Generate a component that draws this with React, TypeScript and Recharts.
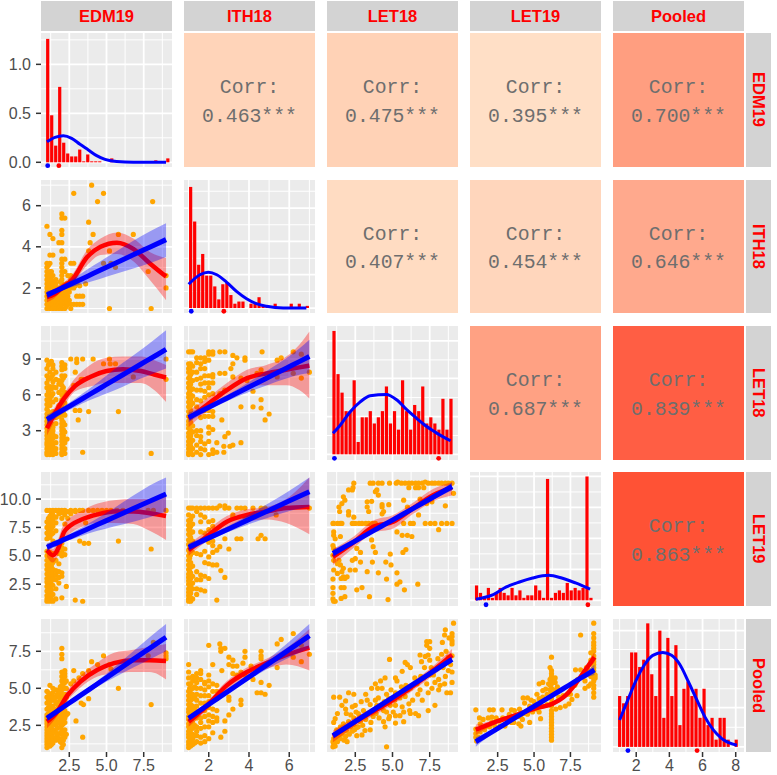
import React from "react";
import { Area, Bar, CartesianGrid, ComposedChart, Line, Scatter, XAxis, YAxis } from "recharts";

const names = ["EDM19", "ITH18", "LET18", "LET19", "Pooled"];

// axis domains
const colDomains = [[0.6, 9.4], [0.77, 7.28], [0.6, 9.4], [0.6, 9.6], [0.6, 8.5]];
const rowDomains = [[-0.048, 1.32], [0.78, 7.25], [0.55, 11.76], [0.58, 12.38], [0.7, 9.68]];
const colTicks = [[2.5, 5, 7.5], [2, 4, 6], [2.5, 5, 7.5], [2.5, 5, 7.5], [2, 4, 6, 8]];
const colMinor = [[1.25, 3.75, 6.25, 8.75], [1, 3, 5, 7], [1.25, 3.75, 6.25, 8.75], [1.25, 3.75, 6.25, 8.75], [1, 3, 5, 7]];
const rowTicks = [[0, 0.5, 1], [2, 4, 6], [3, 6, 9], [2.5, 5, 7.5, 10], [2.5, 5, 7.5]];
const rowMinor = [[0.25, 0.75, 1.25], [1, 3, 5, 7], [1.5, 4.5, 7.5, 10.5], [1.25, 3.75, 6.25, 8.75, 11.25], [1.25, 3.75, 6.25, 8.75]];
const rowTickDigits = [1, 0, 0, 1, 1];

// correlations, upper triangle
const corrValues = [
  ["0.463***", "0.475***", "0.395***", "0.700***"],
  ["0.407***", "0.454***", "0.646***"],
  ["0.687***", "0.839***"],
  ["0.863***"],
];
const corrColors = [
  ["#FFD4B9", "#FFD2B6", "#FFDFC6", "#FF9E80"],
  ["#FFDCC2", "#FFD6BC", "#FFA98D"],
  ["#FFA183", "#FF5E44"],
  ["#FF5235"],
];

// histograms: bar heights, first bin centre, bin step
const edmHist = [1.26, 0.48, 0.17, 0.77, 0.2, 0.09, 0.06, 0.06, 0.13, 0.01, 0.08, 0.01, 0.01, 0.01, 0, 0, 0.04, 0, 0, 0, 0, 0, 0, 0, 0, 0, 0, 0.02, 0, 0, 0.04];
const ithHist = [56, 40, 20, 25, 15, 15, 10, 4, 11, 12, 6, 2, 3, 3, 0, 2, 2, 5, 1, 1, 0, 2, 0, 0, 0, 2, 0, 2, 0, 1];
const let18Hist = [20, 13, 10, 7, 7, 12, 2, 6, 6, 7, 5, 6, 7, 11, 5, 7, 4, 12, 7, 4, 8, 7, 11, 5, 6, 5, 4, 9, 4, 9];
const let19Hist = [6, 3, 1, 5, 1, 3, 5, 3, 2, 5, 2, 4, 1, 2, 2, 6, 4, 1, 49, 1, 3, 4, 3, 7, 4, 5, 4, 5, 50, 1];
const pooledHist = [7, 6, 7, 13, 13, 11, 12, 17, 10, 7, 16, 4, 15, 7, 14, 3, 8, 9, 7, 8, 4, 8, 3, 4, 1, 4, 4, 1, 0, 1];

const edmCurve = [[1, 0.21], [1.54, 0.255], [2.1, 0.272], [2.66, 0.245], [3.22, 0.184], [3.78, 0.126], [4.34, 0.068], [4.9, 0.03], [5.68, 0.007], [6.8, 0], [9, 0]];
const ithCurve = [[1, 11], [1.56, 15.4], [1.98, 16.6], [2.4, 15.4], [2.88, 12], [3.38, 7.7], [3.88, 4.3], [4.37, 2], [4.87, 0.8], [5.7, 0], [6.85, 0]];
const let18Curve = [[1, 3.4], [1.5, 4.76], [2.16, 6.9], [2.83, 8.5], [3.5, 9.5], [4.58, 9.7], [5.3, 8.8], [5.97, 7.2], [6.64, 5.8], [7.3, 4.5], [8, 3.4], [8.9, 2.2]];
const let19Curve = [[1, 0.4], [1.5, 1], [2.2, 2.3], [3.1, 5.4], [4, 7.4], [4.9, 9], [6, 10.1], [6.9, 9], [7.85, 7], [8.85, 4.5]];
const pooledCurve = [[1, 3.7], [1.5, 6.5], [2, 9.2], [2.5, 11.3], [3, 12.6], [3.6, 13], [4.13, 12.6], [4.64, 11.3], [5.14, 9], [5.65, 6.5], [6.15, 4.1], [6.66, 2.3], [7.16, 1.15], [8.07, 0.23]];

// scatter points: [x, y] or [x, [y, y, ...]]
const edmIthPoints = [
  [1, [1, 1.2, 1.4, 1.6, 1.8, 2, 2.2, 2.4, 2.6, 2.8, 3, 3.2, 5]],
  [1.1, [1.1, 1.3, 1.5, 1.7, 1.9, 2.1, 2.3, 2.5, 2.7, 3.1]],
  [1.2, [1, 1.2, 1.4, 1.6, 1.8, 2, 2.2, 2.4, 2.6, 2.8, 3.2, 3.6, 4.6]],
  [1.3, [1.1, 1.3, 1.5, 1.7, 1.9, 2.1, 2.4, 2.8]],
  [1.4, [1, 1.2, 1.4, 1.6, 1.8, 2, 2.2, 2.6, 3.6, 4.4]],
  [1.5, [1.1, 1.3, 1.5, 1.7, 1.9, 2.1, 2.3]],
  [1.6, [1, 1.2, 1.4, 1.6, 1.8, 2, 2.2, 2.4]],
  [1.7, [1.1, 1.3, 1.5, 1.7, 1.9]],
  [1.8, [1, 1.2, 1.4, 1.6, 1.8, 2, 4.2]],
  [1.9, [1.1, 1.3, 1.5, 1.7, 1.9, 2.3]],
  [2, [1, 1.2, 1.4, 1.6, 1.8, 2, 2.2, 2.4, 2.6, 2.8, 3, 3.2, 3.4, 3.8, 4.2, 4.6, 4.8, 5.4, 5.6]],
  [2.2, [1, 1.2, 1.4, 1.6, 1.8, 2, 2.8, 3.4, 5.4]],
  [2.3, [1.1, 1.3, 1.5, 1.8, 2.2]],
  [2.4, [1.2, 1.6, 2, 2.2, 2.6]],
  [2.5, [1.4, 1.8]],
  [2.6, [1, 1.2, 2, 2.2, 2.4, 2.6, 3.2]],
  [2.8, [1.2, 2, 2.4, 3.2, 6.6]],
  [2.9, 2.1],
  [3, [1.2, 1.6, 2.2]], [3.2, [1.2, 1.6, 2.1]], [3.4, [1.2, 1.6]], [3.6, 2.2],
  [4, 7], [4.8, 6.6], [4.4, 6.2], [8.1, 6.2], [3.8, 5.2], [4.1, 4.6], [5.8, 4.6], [6.8, 4.6], [3.9, 4.2], [3.8, 3.8],
  [5.2, 3.8], [4.8, 3.2], [5.3, 3.2], [5.6, 3], [9, 2.6], [7.8, 2.8], [9, 2], [5.2, 1], [8, 1],
];
const edmLet18Points = [
  [1, [1, 1.2, 1.5, 1.8, 2, 2.3, 2.6, 2.9, 3.2, 3.5, 3.8, 4.1, 4.4, 4.8, 5.2, 5.6, 6, 6.6, 7, 7.6, 8.2, 8.9]],
  [1.1, [1.6, 2.1, 2.7, 3.3, 3.9, 4.6, 5.4, 6.3, 7.3, 8.5]],
  [1.2, [1, 1.3, 1.6, 1.9, 2.2, 2.5, 2.8, 3.1, 3.4, 3.8, 4.3, 5.1, 5.7, 6.1, 6.7, 7.4, 7.9, 8.7]],
  [1.3, [1.2, 1.8, 2.3, 2.9, 3.6, 4.4, 5.9, 6.5, 7.5, 8.8]],
  [1.4, [1, 1.4, 1.7, 2, 2.4, 2.7, 3, 3.3, 4.6, 5.4, 6.1, 6.7, 7.1, 7.7, 8.2, 8.5]],
  [1.6, [1.1, 1.5, 2, 2.5, 3.6, 4.1, 5.6, 6.6, 7.3, 7.9]],
  [1.8, [4.2, 5.1, 6.2, 6.9, 7.2]],
  [2, [1, 1.2, 1.5, 1.8, 2.1, 2.4, 2.7, 3, 3.3, 3.6, 3.9, 4.3, 4.7, 5.1, 5.6, 6, 6.4, 6.8, 7.2, 7.6, 8.1, 8.4, 8.7]],
  [2.1, [1.3, 1.9, 2.6, 3.1, 3.7, 4.5, 5.4, 6.6, 7.4, 8.3]],
  [2.2, [1.1, 1.5, 2, 2.3, 2.9, 3.5, 4.3, 5.3, 6.2, 7.6, 8.2, 8.5]],
  [2.35, 2.3], [2.6, 9], [3, [9, 8.7]], [3.4, [9, 7.3, 1.2]], [4.1, 9], [5.2, 9], [4.8, 8.6], [5.25, 8.6], [5.6, 8.6],
  [9, [9, 7.3]], [6.8, 7.5], [2.9, [7.9, 4.7]], [3.3, 7.3], [2.8, 6.8], [8, 1.1], [5.8, 4.6], [3.8, 4.6], [3.1, 3.9], [3.2, 4.7],
];
const ithLet18Points = [
  [1, [1, 1.2, 1.5, 1.8, 2.1, 2.5, 2.8, 3.2, 3.5, 3.8, 4.2, 4.6, 5, 5.4, 5.8, 6.1, 6.6, 7, 7.4, 7.9, 8.2, 8.6, 9.6]],
  [1.05, [1.1, 1.6, 2.2, 2.7, 3.3, 3.9, 4.4, 5.2, 5.7, 6.3, 6.8, 7.5, 8.1, 8.4]],
  [1.1, [1.3, 1.7, 2, 2.3, 2.6, 3, 3.4, 3.7, 4.1, 4.7, 5.1, 5.6, 6, 6.4, 6.9, 7.2, 7.7, 8.6, 9.6]],
  [1.2, [1, 1.5, 2.2, 2.9, 3.4, 5.3, 5.9, 6.5, 7.2, 7.9, 8.4, 9.6]],
  [1.4, [1.2, 1.8, 2.6, 3, 5, 5.6, 6.4, 7.3, 7.9, 8.7, 9.1]],
  [1.6, [1, 1.5, 2.1, 2.5, 3, 4.1, 5.5, 6.4, 6.9, 7.4, 8.2, 8.6, 9.1]],
  [1.8, [1.4, 1.9, 4.2, 4.7, 5.8, 6.3, 7, 7.6, 8.2, 8.8, 9.1]],
  [2, [1, 2.1, 2.8, 3.3, 4.2, 4.7, 6, 6.6, 7, 7.6, 8.9, 9.4, 9.6]],
  [2.2, [1.1, 1.4, 3.1, 4.2, 4.6, 6.1, 7, 7.5, 7.7, 9.4, 9.6]],
  [2.4, [1.2, 2]], [2.55, [6.1, 7.8, 9.6]], [2.65, 3.9], [2.75, [1.7, 1.2]], [2.8, [2.5, 6.4, 7.8, 9.6]], [2.97, 2.8], [3.05, 1.7], [3.2, [1.8, 7.5, 8.6, 9.3]], [3.1, 8.2],
  [3.4, 9.1], [3.6, [2, 5, 7.4]], [3.8, [9.1, 8.9]], [3.9, 7.2], [4.2, [5, 6.3]], [4.4, 7.8], [4.6, [5.6, 4.9, 8.1]], [4.65, 9.6], [4.8, 3.9], [5, 4.4],
  [5.4, [8.9, 7.5]], [5.6, 9.1], [6.2, [9.6, 7.8]], [6.6, [9.4, 7.4]], [7, 7.9],
];
const edmLet19Points = [
  [1, [1, 1.2, 1.5, 1.9, 2.3, 2.7, 3, 3.4, 3.8, 4.2, 4.6, 5, 5.4, 6.5, 7, 7.5, 8, 9]],
  [1.1, [1.2, 1.7, 2.1, 2.5, 2.9, 3.3, 3.7, 4.1, 4.5, 5.1, 6.8, 7.3, 7.8, 8.3]],
  [1.2, [1, 1.4, 1.8, 2.2, 2.6, 3.1, 3.5, 3.9, 4.4, 4.8, 5.3, 5.9, 6.6, 7.1, 7.6, 8.1, 8.5, 9]],
  [1.3, [1.2, 2, 2.8, 3.2, 3.6, 4.1, 4.7, 6.9, 7.4, 7.9, 8.8]],
  [1.4, [1, 1.6, 2.4, 3, 3.4, 3.8, 4.4, 5.2, 6.3, 7, 7.6, 8.2, 8.6, 9]],
  [1.6, [1.2, 2.1, 2.9, 3.3, 3.7, 4.6, 6.1, 7.2, 7.9, 8.4, 9]],
  [1.8, [2.6, 3.1, 3.6, 4.3, 5.2, 8.7, 9]],
  [2, [1.3, 3.2, 3.5, 5, 5.3, 5.7, 6.1, 8.3, 8.8, 9]],
  [2.2, [5.1, 5.6, 7.8, 8.6, 9]],
  [2.3, 2.3], [2.4, [8.3, 8.9]], [2.6, [8.7, 9]], [2.9, [1.1, 8.9, 9]], [3.2, [9, 6.3]], [3.4, [1, 9]], [3.5, 6.1], [3.6, 7.9], [3.8, [9, 6.1]],
  [4.1, 9], [4.4, 9], [4.7, 9], [5, 9], [5.3, 9], [5.7, 9], [6.1, 9], [5.8, 6.3], [8, 5.6], [7.8, 9], [8.15, 9], [9, 9],
];
const ithLet19Points = [
  [1, [1, 1.2, 1.5, 1.8, 2.1, 2.5, 2.8, 3.1, 3.4, 3.8, 4.2, 4.6, 5, 5.5, 6, 6.4, 6.9, 7.3, 7.7, 8.1, 8.6, 9.2]],
  [1.05, [1.1, 1.6, 2.2, 2.7, 3.2, 3.6, 4.1, 4.8, 5.3, 5.8, 6.2, 6.8, 7.4, 8]],
  [1.1, [1, 1.3, 1.7, 2, 2.4, 3, 3.5, 4, 4.4, 5.1, 5.6, 6.1, 6.6, 7, 7.6, 8.2, 9.2]],
  [1.2, [1.2, 2.1, 2.6, 3.2, 4.1, 5.3, 6.3, 7.1, 7.8, 8.5, 9.2]],
  [1.4, [1.6, 2.1, 2.9, 3.6, 5.2, 8.9, 9.2]],
  [1.6, [2, 2.9, 3.3, 5.1, 7.1, 8, 8.6, 9.2]],
  [1.8, [1.9, 3.2, 4.4, 5.4, 7, 8.4, 9.2]],
  [2, [3, 4.3, 4.9, 6.2, 7.3, 8, 9.2]],
  [2.2, [4.2, 5.3, 5.9, 6.3, 7.6, 8.1, 9.2]],
  [2.4, [1.1, 4.2, 5.5, 9.2]], [2.55, [5.8, 9.4]], [2.6, 3.7], [2.8, [3.1, 6.5, 9.4, 9.2]], [3, [5.6, 9.2]], [3.2, [8.6, 8.4]], [3.4, [6.5, 9.2]], [3.6, [6.5, 9.2]],
  [3.8, [8.4, 9.2]], [4.2, 9.2], [4.45, 6.5], [4.6, [6.8, 9.2]], [4.8, [6.5, 9.2]], [5.35, 8.6], [7, 9.2],
];
const let18Let19Points = [
  [3.5, 11.4], [3.7, 11.4], [4.05, 11.4], [4.3, 11.4], [4.8, 11.4], [5.25, 11.4], [5.35, 11.5], [5.6, 11.4], [5.85, 11.4], [6.1, 11.4], [6.3, 11.4], [6.55, 11.4], [6.75, 11.4], [7, 11.4], [7.2, 11.5], [7.4, 11.4], [7.65, 11.4], [7.85, 11.4], [8.1, 11.4], [8.3, 11.4], [8.55, 11.4], [8.75, 11.4], [9, 11.4],
  [6.1, 11], [6.55, 11], [6.75, 11], [7.1, 11], [3.85, 10.65], [3.95, 10.8], [4.05, 10.35], [2.4, 11.4], [2.35, 11], [2.05, 10.8], [2.3, 10.8], [3.6, 9.8], [3.3, 9.75], [4.3, 9.3], [1.7, 10.2], [1.8, 9.9], [1.6, 9.6], [1.4, 9.3], [2.05, 8.9], [1.45, 8.9], [2.05, 8.6], [2.4, 8.4],
  [3.3, 9.3], [3.4, 8.9], [4.4, 8.9], [4.3, 8.7], [4.3, 9.5], [4.75, 9.5], [5.75, 9.9], [6, 9.3], [6.75, 8.6], [6.85, 10], [7.3, 9.6], [7.65, 9.75], [8.55, 9.4], [9.1, 10.5],
  [1, 7.85], [1.05, 7.85], [1.3, 7.85], [1.5, 7.85], [1.6, 7.85], [2.3, 7.85], [2.4, 7.85], [2.5, 7.85], [2.75, 7.85], [2.95, 7.85], [3.2, 7.85], [3.4, 7.85], [3.65, 7.85], [3.85, 7.85], [5.75, 7.85], [6.2, 7.85], [6.4, 7.85], [7.2, 7.85], [7.55, 7.85], [7.85, 7.85], [8.3, 7.85], [8.65, 7.85], [9, 7.85],
  [3.6, 7.4], [5.3, 7.1], [5.65, 6.8], [6, 6.8], [6.3, 6.7], [8.1, 7.3], [1.05, 7.1], [1.05, 6.8], [1.5, 6.7], [1.15, 6.5], [1, 5.9], [1.05, 5.65], [3.6, 6.4], [3.7, 5.8], [2.6, 5.65], [2.85, 5.3], [3.85, 5.3], [4.85, 5.15], [5.9, 5.55], [5.7, 5.3],
  [1, 5.05], [1.05, 4.6], [1.4, 4.6], [1.5, 4.2], [1.3, 4.3], [2.3, 4.6], [2.5, 4.75], [2.85, 4.45], [3.65, 4.45], [4.55, 4.45], [4.9, 4.2], [1.05, 3.75], [1.3, 3.45], [1.7, 3.9], [1.6, 3.6], [1.7, 3.15], [2.15, 3.75], [2.5, 3.75], [3.3, 3.6], [4.05, 3.5], [5.3, 3.5], [4.6, 2.95],
  [1.55, 3], [1.95, 3.15], [1.8, 3], [1, 2.95], [5.5, 2.7], [5.3, 2.5], [6.7, 2.5], [1.55, 2.2], [1.75, 2.2], [2.95, 2.2], [2.6, 2], [5.8, 2], [1, 2.2], [1, 1.7], [1.55, 1.25], [1.8, 1.4], [3.45, 1.4], [1, 1.2], [1.05, 1], [1.15, 1], [4.7, 1.15],
];
const edmPooledPoints = [
  [1, [1, 1.2, 1.4, 1.6, 1.8, 2, 2.2, 2.4, 2.6, 2.8, 3, 3.2, 3.6, 4, 4.4, 4.8]],
  [1.1, [1.2, 1.5, 1.8, 2.1, 2.4, 2.7, 3, 3.3, 3.7, 4.2, 4.7]],
  [1.2, [1.1, 1.4, 1.7, 2, 2.3, 2.6, 2.9, 3.2, 3.5, 3.8, 4.1, 4.5, 5.2]],
  [1.3, [1.2, 1.6, 1.9, 2.4, 2.8, 3.1, 3.6, 4.2, 4.6]],
  [1.4, [1.3, 1.7, 2.2, 2.6, 3, 3.4, 3.8, 4.4, 4.7, 5]],
  [1.5, [1.6, 2.1, 2.7, 3.2, 3.6, 4.2]],
  [1.6, [1.5, 2, 2.5, 2.9, 3.5, 4, 4.4, 4.9]],
  [1.7, [1.8, 2.3, 3.1, 3.9, 4.6]],
  [1.8, [1.6, 2.7, 3.3, 3.7, 4.1, 4.5, 4.9]],
  [1.9, [1.4, 2, 2.4, 3, 3.5, 4.3, 4.7, 5.1]],
  [2, [1, 1.3, 1.6, 1.9, 2.2, 2.5, 2.8, 3.1, 3.4, 3.7, 4, 4.3, 4.6, 4.9, 5.2, 5.5, 5.8, 6.1, 7, 7.3, 7.7]],
  [2.1, [1.2, 1.5, 2, 2.6, 3.3, 3.9, 4.4, 5.1, 5.6, 6]],
  [2.2, [1.7, 2.2, 2.7, 3, 3.5, 4.2, 4.6, 5, 5.4, 5.8, 6, 6.2]],
  [2.3, [1.9, 3.2, 4.4, 5, 5.5]],
  [3.4, 1.7], [2.95, 2.8], [2.4, 3.3], [3.3, 4], [3.45, 3.9], [3.8, 4.3], [2.6, 5.3], [2.8, 5.5], [3.15, 5.7], [3.4, 6], [2.8, 6.2], [3.8, 6.2], [4, 6.8], [4.4, 6.6], [4.8, 7.2], [3.9, 6],
  [5.8, 5], [8, 3.9], [7.8, 7.2], [8.15, 8.1], [9, 7.4], [9, 7.2], [9, 7], [5.2, 6.6], [5.3, 6.3],
];
const ithPooledPoints = [
  [1, [1, 1.2, 1.4, 1.7, 1.9, 2.1, 2.4, 2.6, 2.9, 3.1, 3.4, 3.6, 3.9, 4.2, 4.5, 4.8, 5.3, 5.7, 6.1, 6.6]],
  [1.05, [1.3, 1.8, 2.2, 2.7, 3.2, 3.7, 4.3, 5]],
  [1.1, [1.1, 1.4, 1.7, 2, 2.3, 2.5, 2.8, 3, 3.3, 3.6, 3.9, 4.2, 4.6, 4.9, 5.3]],
  [1.2, [1.2, 1.6, 1.9, 2.3, 2.7, 3.2, 3.5, 3.8, 4.3, 4.6, 5, 5.5, 5.8]],
  [1.3, [1.3, 1.8, 2.5, 3, 3.6, 4.4, 5.1, 5.7]],
  [1.4, [1.4, 1.8, 2.1, 2.4, 3, 3.4, 3.8, 4.2, 4.6, 5, 5.4, 5.7, 6]],
  [1.6, [1.3, 1.7, 2.3, 2.7, 3, 3.5, 4, 4.5, 5, 5.6, 6, 6.2]],
  [1.8, [1.4, 1.8, 2.4, 3.1, 3.5, 4, 4.5, 4.9, 5.3, 5.4]],
  [2, [1.6, 2.4, 2.8, 3.2, 3.7, 4.1, 4.5, 5.1, 5.5, 5.9, 7.9]],
  [2.2, [2, 2.7, 3.1, 3.6, 4.2, 4.8, 5.3, 6.6]],
  [2.4, [2.8, 3, 3.5, 4.3, 4.8, 5.2]],
  [2.6, [1.7, 7.7, 7.5]], [2.55, 8], [2.8, [2.1, 7.7, 2.8]], [3, [7.1, 6.6, 3.2, 4.4, 4.2]], [3.2, [6.9, 6.5, 6, 3.6]], [3.4, [6.5, 5.9]], [3.8, [7.5, 7.1, 5.9]], [4.6, [7.5, 7.2, 7, 4.7, 5.4]],
  [3.7, 6.7], [4.1, 6.5], [2.65, 6.2], [3.6, [4.2, 3.9, 6.1]], [4.4, 4.7], [4.8, 4.6], [5, 5.2], [5.4, [8, 6.4]], [5.6, 8.3], [6.2, [8.7, 7.1]], [6.6, [7.9, 6.8]], [7, 7.3], [4.2, 5.6],
];
const let18PooledPoints = [
  [9.1, 9.4], [8.55, 8.95], [9, 8.7], [9, 8.5], [9, 8.2], [8.5, 8.6], [8.35, 8.1], [8.8, 8.4], [7.3, 8.15], [7.5, 8.15], [7.3, 7.9], [7.5, 7.7], [6.85, 7.25], [7.2, 7.15], [7.4, 7.25], [7.5, 6.9], [6.95, 6.8],
  [4.8, 6.95], [5.85, 6.75], [6, 6.6], [6.2, 6.4], [5.65, 6.15], [5.2, 5.7], [5.3, 5.5], [4.5, 5.7], [4.2, 5.5], [3.85, 5.3], [3.6, 5], [3.3, 4.2], [1.05, 4.4], [1.45, 4.4], [2.05, 4.7], [2.4, 4.6], [1.85, 4.15], [2.5, 3.85], [1.6, 3.85], [1.85, 3.6], [2.3, 3.75], [1.15, 2.95], [1.05, 2.7],
  [7.85, 3.85], [7.4, 3.5], [8.9, 4.7], [8.65, 4.7], [8.1, 4.9], [7.65, 5], [6.55, 3.3], [6.75, 3.15], [6.2, 3.3], [4.6, 1.05], [5.75, 2.75], [5.2, 2.65], [4.75, 2.95], [4.4, 2.75], [4.5, 2.4], [5.5, 3.15], [5.2, 3.15], [4.8, 3.1],
  [3.5, 2.2], [3.15, 2.15], [2.95, 1.85], [2.6, 1.8], [2.4, 2.55], [2.7, 2.4], [1, 1.05], [1.05, 1.25], [1.3, 1.4], [1.5, 1.6], [1.05, 1.6], [1, 1.4], [1.15, 1.1], [1.85, 1.75], [1.95, 2.1], [1.4, 1.85],
  [3.5, 3.9], [3.85, 4.2], [4.05, 4.35], [4.6, 4.6], [5.2, 4.7], [5.5, 4.35], [5.85, 4.45], [6.2, 5], [6.65, 5.3], [7.1, 5.7], [7.5, 5.9], [8.1, 5.6], [8.55, 5.8], [3.05, 3.5], [2.7, 3.3], [2.4, 3], [2.05, 2.75], [1.7, 2.6], [2.85, 2.75],
  [3.95, 3.85], [4.4, 3.5], [4.85, 3.85], [5.2, 3.85], [5.65, 3.75], [6.1, 3.95], [6.85, 4.9], [7.3, 5.3], [7.85, 5.4], [8.4, 6.4], [8.75, 7.1], [9, 7.2], [2.3, 2.1], [2.6, 2.35], [1.7, 2.1], [1.5, 2.4], [1.95, 1.4],
  [1.2, 1.6], [1.25, 2.2], [1.6, 1.9], [1.75, 1.5], [2.1, 1.9], [2.2, 2.4], [2.45, 2.2], [2.55, 3.4], [2.8, 3.1], [3, 2.5], [3.2, 2.9], [3.35, 3.3], [3.55, 2.7], [3.7, 3.1], [3.9, 3.3], [4.1, 3], [4.2, 3.7], [4.45, 4.1], [4.6, 3.4], [4.75, 4.3], [4.9, 4.9], [5.05, 3.4], [5.15, 4.2], [5.35, 4.5], [5.6, 5.1], [5.75, 3.4], [5.9, 5.2], [6.05, 4.9],
  [6.15, 3.5], [6.35, 4.2], [6.5, 5.7], [6.7, 4.6], [6.9, 5.8], [7, 4.2], [7.15, 6.4], [7.4, 4.7], [7.6, 6.4], [7.75, 5.9], [7.95, 6.3], [8.05, 7], [8.2, 5.2], [8.3, 7.3], [8.5, 5.3], [8.6, 7.5], [8.75, 6.2], [8.9, 6.6], [9, 6.1], [9, 5.4], [9, 8], [1.9, 3.3], [2.2, 3.2], [1.3, 3.3], [2.9, 4.1], [3.2, 4.6], [4, 5], [4.3, 5],
];
const let19PooledPoints = [
  [9.1, [9.4, 8.7, 8.4, 8.1, 7.9, 7.7, 7.5, 7.2, 7, 6.8, 6.6, 6.4, 6.2, 6, 5.7, 5.5, 5.2, 5, 4.7, 4.4]],
  [6.2, [7.1, 6.2, 6, 5.8, 5.5, 5.3, 5, 4.7, 4.5, 4.3, 4, 3.8, 3.5, 3.3, 3.1, 2.9, 2.7, 2.5, 2.3, 2.1, 1.9, 1.7, 1.5]],
  [8.2, 8.6], [7.85, 6.25], [8.2, 6.25], [8.5, 5.5], [8.75, 5.15], [8.5, 5], [9.2, 5.7], [9.2, 5.9], [7.95, 4.5], [7.5, 4.6], [7.15, 3.8], [6.8, 3.7], [7.6, 4.25], [7.4, 3.95],
  [5.35, 5.3], [6, 5.3], [5.8, 4.95], [5.6, 4.85], [5.9, 4.6], [6.6, 5.1], [6.7, 4.4], [5.2, 4.6], [5.35, 4.3], [4.55, 4.35], [4.25, 4.35], [4.35, 4], [4.7, 3.8], [5.15, 3.6], [4.9, 3.4], [4.55, 3.25], [4, 3.6], [5.35, 3.4], [5.45, 2.95],
  [1, 3.55], [1.95, 3.55], [2.2, 3.55], [2.8, 3.55], [3.45, 3.55], [3.65, 3.5], [3.95, 3.1], [4.2, 2.9], [1.25, 3], [1.5, 2.9], [1.85, 3], [2.1, 3.05], [2.4, 3], [2.85, 3], [3.3, 3.25], [3.6, 3.05],
  [1, 2.25], [1.3, 2.6], [1.75, 2.45], [2.3, 2.45], [2.65, 2.45], [3, 2.45], [3.45, 2.7], [3.95, 2.6], [4.1, 2.45], [4.7, 2.7], [1, 1.7], [1, 1.95], [1.3, 2.05], [1.6, 2.2], [1.95, 2.4],
  [6.1, [6.4, 5.6, 5.2, 4.9, 4.4]], [5.6, [5.4, 4.4]], [6.45, [5.7, 5.4, 4.9]], [8.9, [6.9, 7.4, 5.8, 5.3]], [5, 4.1], [5.4, 4], [4.8, 4.2], [3.2, 2.9], [3.6, 2.7], [2.6, 2.8], [2.1, 2.7], [4.3, 3.3], [4.1, 3.2], [5.9, 3.9], [6.5, 3.6], [7, 4.5], [7.3, 4.6], [7.8, 5.2], [8, 5.6], [8.3, 5.8], [8.6, 6.4], [8.8, 6.2], [1.05, 1.45], [1.15, 1.7],
];

// fitted curves: [x, loess low, loess, loess high, lm low, lm, lm high]
const edmIthFit = [
  [1, 1.3, 1.55, 1.8, 1.45, 1.65, 1.85], [1.5, 1.5, 1.7, 1.95, 1.7, 1.82, 1.95], [2, 1.85, 2, 2.2, 1.88, 1.99, 2.1], [2.7, 2.2, 2.4, 2.65, 2.05, 2.22, 2.42], [3.7, 3.1, 3.5, 3.85, 2.25, 2.56, 2.9],
  [4.6, 3.6, 4, 4.4, 2.45, 2.87, 3.3], [5.7, 3.65, 4.2, 4.7, 2.7, 3.24, 3.8], [6.8, 3.3, 3.9, 4.4, 2.95, 3.61, 4.3], [7.9, 2.4, 3.2, 3.75, 3.2, 3.98, 4.75], [9, 1.4, 2.55, 3.45, 3.5, 4.35, 5.15],
];
const edmLet18Fit = [
  [1, 2.6, 3.2, 3.9, 3.54, 3.94, 4.34], [1.6, 4, 4.6, 5.1, 4.08, 4.38, 4.68], [2.15, 5.1, 5.7, 6.1, 4.5, 4.78, 5.06], [2.9, 6.3, 6.75, 7.4, 4.98, 5.33, 5.68], [3.9, 6.7, 7.5, 8.5, 5.56, 6.06, 6.56],
  [5, 7, 8, 9.1, 6.12, 6.87, 7.62], [6.1, 7, 8.15, 9.2, 6.68, 7.68, 8.68], [7.3, 7, 8, 9.2, 7.36, 8.56, 9.76], [8.2, 6.4, 7.7, 8.9, 7.81, 9.21, 10.61], [9, 5.4, 7.45, 8.5, 8.2, 9.8, 11.4],
];
const ithLet18Fit = [
  [1, 3.3, 4, 4.7, 3.7, 4.1, 4.5], [1.9, 4.6, 5.15, 5.7, 4.62, 4.87, 5.12], [2.9, 5.85, 6.4, 7, 5.47, 5.72, 5.97], [3.9, 6.7, 7.4, 8.1, 6.17, 6.57, 6.97],
  [4.87, 6.8, 7.8, 8.5, 6.79, 7.39, 7.99], [5.85, 6.8, 8.1, 9.2, 7.37, 8.22, 9.07], [6.5, 6.4, 8.3, 10.2, 7.68, 8.78, 9.88], [7, 5.7, 8.45, 11.3, 7.8, 9.2, 10.6],
];
const edmLet19Fit = [
  [1, 4.9, 5.5, 6.1, 5.4, 5.75, 6.1], [1.4, 4.4, 5.05, 5.6, 5.69, 5.99, 6.29], [1.7, 4.9, 5.5, 6.3, 5.88, 6.16, 6.44], [2.15, 6.3, 7.1, 7.9, 6.18, 6.43, 6.68], [2.6, 7, 7.7, 8.4, 6.41, 6.69, 6.97],
  [3.25, 7.5, 8.15, 8.9, 6.72, 7.07, 7.42], [4.4, 7.9, 8.65, 9.6, 7.2, 7.75, 8.3], [5.5, 7.9, 8.9, 9.9, 7.59, 8.39, 9.19], [6.8, 7.8, 8.9, 10, 8.01, 9.16, 10.31], [7.9, 7.2, 8.75, 10, 8.4, 9.8, 11.2], [9, 6.4, 8.5, 10.4, 8.9, 10.45, 11.9],
];
const ithLet19Fit = [
  [1, 5, 5.5, 6, 5.4, 5.75, 6.1], [1.9, 6.3, 6.7, 7.2, 6.24, 6.49, 6.74], [2.9, 7.5, 8, 8.5, 7.05, 7.3, 7.55], [3.9, 8, 8.6, 9.1, 7.72, 8.12, 8.52],
  [4.87, 8.2, 8.9, 9.3, 8.31, 8.91, 9.51], [5.85, 7.9, 9.2, 10, 8.86, 9.71, 10.56], [7, 6.9, 9.3, 11.9, 9.35, 10.65, 11.9],
];
const let18Let19Fit = [
  [1, 4.2, 4.9, 5.6, 4.85, 5.2, 5.55], [2.4, 5.7, 6.2, 6.7, 6.03, 6.23, 6.43], [3.7, 7, 7.55, 8.1, 7.04, 7.19, 7.34], [5.05, 7.4, 8, 8.6, 8.04, 8.19, 8.34],
  [6.4, 8.7, 9.2, 9.7, 9.03, 9.18, 9.33], [7.75, 9.8, 10.35, 10.9, 9.98, 10.18, 10.38], [9, 10.3, 11, 11.5, 10.75, 11.1, 11.45],
];
const edmPooledFit = [
  [1, 2.3, 2.75, 3.2, 2.76, 2.98, 3.2], [1.6, 3, 3.3, 3.6, 3.22, 3.39, 3.56], [2.4, 4.2, 4.55, 4.9, 3.81, 3.94, 4.07], [3.25, 5.05, 5.45, 5.85, 4.39, 4.52, 4.65], [4.4, 5.8, 6.25, 6.75, 5.11, 5.31, 5.51],
  [5.5, 6, 6.7, 7.4, 5.71, 6.06, 6.41], [6.8, 6.1, 6.9, 7.6, 6.4, 6.95, 7.5], [7.9, 6.1, 6.9, 7.8, 6.95, 7.7, 8.45], [9, 5.6, 6.85, 8, 7.5, 8.45, 9.35],
];
const ithPooledFit = [
  [1, 2.4, 2.75, 3.1, 2.78, 2.98, 3.18], [1.9, 3.5, 3.8, 4.1, 3.69, 3.82, 3.95], [2.9, 4.9, 5.2, 5.5, 4.61, 4.74, 4.87], [3.9, 5.75, 6.1, 6.4, 5.5, 5.67, 5.84],
  [4.87, 6.3, 6.7, 7, 6.27, 6.57, 6.87], [5.85, 6.6, 7.25, 7.7, 6.98, 7.48, 7.98], [7, 6.2, 7.75, 9, 7.7, 8.55, 9.35],
];
const let18PooledFit = [
  [1, 1.35, 1.75, 2.15, 1.58, 1.8, 2.02], [2.85, 2.65, 2.95, 3.25, 2.89, 2.99, 3.09], [4.6, 3.65, 3.95, 4.25, 4.04, 4.12, 4.2], [5.95, 4.55, 4.85, 5.15, 4.91, 4.99, 5.07],
  [7.3, 5.55, 5.85, 6.15, 5.74, 5.86, 5.98], [9, 6.85, 7.25, 7.65, 6.73, 6.95, 7.17],
];
const let19PooledFit = [
  [1, 1.85, 2.2, 2.55, 1.05, 1.4, 1.7], [2.4, 2.6, 2.75, 2.9, 2.13, 2.23, 2.33], [3.8, 3.05, 3.2, 3.35, 3, 3.07, 3.14], [5.1, 3.5, 3.65, 3.8, 3.76, 3.84, 3.92], [6.25, 3.8, 3.95, 4.1, 4.44, 4.52, 4.6],
  [7.15, 4.35, 4.5, 4.65, 4.96, 5.06, 5.16], [7.85, 5.1, 5.3, 5.5, 5.36, 5.48, 5.6], [8.5, 5.95, 6.2, 6.45, 5.7, 5.86, 6.02], [9.15, 6.75, 7.1, 7.45, 5.9, 6.25, 6.6],
];

const panelX = [41, 184, 327, 470, 613];
const panelY = [33, 180, 326, 472, 619];
const panelH = [134, 133, 134, 134, 133];
const panelW = 131;

const toPoints = (list: any[]) =>
  list.flatMap(([x, y]) => (Array.isArray(y) ? y.map((v: number) => ({ x, y: v })) : [{ x, y }]));

const toRows = (fit: number[][]) =>
  fit.map(([x, rl, r, rh, bl, b, bh]) => ({ x, red: r, redBand: [rl, rh], blue: b, blueBand: [bl, bh] }));

const dotShape = (color: string, r: number) => (p: any) => <circle cx={p.cx} cy={p.cy} r={r} fill={color} />;

// the curve's x values shrink the band Recharts gives a bar, so the width is set here
const barShape = (p: any) => <rect x={p.x + p.width / 2 - 1.6} y={p.y} width={3.2} height={p.height} fill="#FF0000" />;

const Frame = ({ col, row, data, yDomain, yMajor, yMinor, children }: any) => {
  const left = col === 0;
  const bottom = row === 4;
  const spare = bottom ? 0 : 6; // room under the plot so the lowest y label is not cut
  const axisStyle = { fontSize: 16, fontFamily: "Liberation Sans", fill: "#4d4d4d" };
  return (
    <div style={{ position: "absolute", left: panelX[col] - (left ? 41 : 0), top: panelY[row] }}>
      <ComposedChart
        width={panelW + (left ? 41 : 0)}
        height={panelH[row] + (bottom ? 23 : spare)}
        data={data}
        margin={{ top: 0, right: 0, bottom: spare, left: 0 }}
      >
        <CartesianGrid fill="#EBEBEB" stroke="#fff" strokeWidth={1} horizontalValues={yMinor} verticalValues={colMinor[col]} />
        <CartesianGrid stroke="#fff" strokeWidth={1.8} horizontalValues={yMajor} verticalValues={colTicks[col]} />
        <XAxis
          dataKey="x"
          type="number"
          domain={colDomains[col]}
          ticks={colTicks[col]}
          interval={0}
          hide={!bottom}
          height={23}
          tickSize={5}
          tickMargin={3}
          axisLine={false}
          tick={axisStyle}
          tickLine={{ stroke: "#333", strokeWidth: 1.5 }}
          tickFormatter={(v: number) => (col === 1 || col === 4 ? String(v) : v.toFixed(1))}
        />
        <YAxis
          dataKey="y"
          type="number"
          domain={yDomain}
          ticks={rowTicks[row]}
          interval={0}
          hide={!left}
          width={41}
          tickSize={5}
          tickMargin={5}
          axisLine={false}
          tick={axisStyle}
          tickLine={{ stroke: "#333", strokeWidth: 1.5 }}
          tickFormatter={(v: number) => v.toFixed(rowTickDigits[row])}
        />
        {children}
      </ComposedChart>
    </div>
  );
};

const ScatterPanel = ({ col, row, points, fit }: any) => (
  <Frame col={col} row={row} data={toRows(fit)} yDomain={rowDomains[row]} yMajor={rowTicks[row]} yMinor={rowMinor[row]}>
    <Scatter zIndex={10} data={toPoints(points)} shape={dotShape("#FFA500", 2.6)} isAnimationActive={false} />
    <Area zIndex={20} dataKey="redBand" type="monotone" stroke="none" fill="#FF0000" fillOpacity={0.35} dot={false} activeDot={false} isAnimationActive={false} />
    <Line zIndex={30} dataKey="red" type="monotone" stroke="#FF0000" strokeWidth={4.5} dot={false} activeDot={false} isAnimationActive={false} />
    <Area zIndex={40} dataKey="blueBand" type="monotone" stroke="none" fill="#0000FF" fillOpacity={0.35} dot={false} activeDot={false} isAnimationActive={false} />
    <Line zIndex={50} dataKey="blue" type="monotone" stroke="#0000FF" strokeWidth={5} dot={false} activeDot={false} isAnimationActive={false} />
  </Frame>
);

const HistPanel = ({ col, row, heights, start, step, curve, yDomain, yMajor, yMinor, marks }: any) => {
  const bars = heights.map((h: number, i: number) => ({ x: start + i * step, h }));
  const line = curve.map(([x, y]: number[]) => ({ x, y }));
  return (
    <Frame col={col} row={row} data={bars} yDomain={yDomain} yMajor={yMajor} yMinor={yMinor}>
      <Bar dataKey="h" shape={barShape} isAnimationActive={false} />
      <Line data={line} dataKey="y" type="monotone" stroke="#0000FF" strokeWidth={3} dot={false} activeDot={false} isAnimationActive={false} />
      <Scatter data={[{ x: marks[0], y: marks[2] }]} shape={dotShape("#0000FF", 2.4)} isAnimationActive={false} />
      <Scatter data={[{ x: marks[1], y: marks[2] }]} shape={dotShape("#FF0000", 2.4)} isAnimationActive={false} />
    </Frame>
  );
};

const CorrTile = ({ col, row }: any) => (
  <div
    style={{
      position: "absolute",
      left: panelX[col],
      top: panelY[row],
      width: panelW,
      height: panelH[row] - 5,
      paddingTop: 5,
      background: corrColors[row][col - row - 1],
      color: "#6e6e6e",
      fontFamily: "Liberation Mono",
      fontSize: 19.8,
      lineHeight: "28.5px",
      textAlign: "center",
      display: "flex",
      flexDirection: "column",
      justifyContent: "center",
    }}
  >
    <div>Corr:</div>
    <div>{corrValues[row][col - row - 1]}</div>
  </div>
);

const stripText = { color: "#FF0000", fontFamily: "Liberation Sans", fontWeight: 700, fontSize: 16.5 };

export default function App() {
  return (
    <div style={{ position: "absolute", left: 0, top: 0, width: 777, height: 775, background: "#fff", overflow: "hidden" }}>
      {names.map((name, i) => (
        <div
          key={name}
          style={{ ...stripText, position: "absolute", left: panelX[i], top: 1, width: panelW, height: 30, lineHeight: "30px", textAlign: "center", background: "#D3D3D3" }}
        >
          {name}
        </div>
      ))}
      {names.map((name, i) => (
        <div
          key={name}
          style={{ ...stripText, position: "absolute", left: 746, top: panelY[i], width: 25, height: panelH[i], background: "#D3D3D3", display: "flex", alignItems: "center", justifyContent: "center" }}
        >
          <span style={{ writingMode: "vertical-rl" }}>{name}</span>
        </div>
      ))}

      {corrValues.map((list, row) => list.map((_, k) => <CorrTile key={`${row}-${k}`} row={row} col={row + k + 1} />))}

      <HistPanel col={0} row={0} heights={edmHist} start={1.05} step={0.269} curve={edmCurve} yDomain={rowDomains[0]} yMajor={rowTicks[0]} yMinor={rowMinor[0]} marks={[1.05, 1.8, -0.034]} />
      <HistPanel col={1} row={1} heights={ithHist} start={1.1} step={0.2} curve={ithCurve} yDomain={[-2.3, 59.2]} yMajor={[0, 15.4, 30.8, 46.2]} yMinor={[7.7, 23, 38.5, 54]} marks={[1.13, 2.75, -1.5]} />
      <HistPanel col={2} row={2} heights={let18Hist} start={1.07} step={0.271} curve={let18Curve} yDomain={[-0.92, 20.8]} yMajor={[0, 6.1, 12.3, 18.4]} yMinor={[3.05, 9.2, 15.3]} marks={[1.1, 8.1, -0.65]} />
      <HistPanel col={3} row={3} heights={let19Hist} start={1.05} step={0.271} curve={let19Curve} yDomain={[-2.3, 51.8]} yMajor={[0, 12.5, 25, 37.5, 50]} yMinor={[6.25, 18.75, 31.25, 43.75]} marks={[1.7, 8.7, -1.8]} />
      <HistPanel col={4} row={4} heights={pooledHist} start={1} step={0.2424} curve={pooledCurve} yDomain={[-0.7, 17.6]} yMajor={[0, 5.4, 10.7, 16]} yMinor={[2.7, 8, 13.4]} marks={[1.5, 5.67, -0.5]} />

      <ScatterPanel col={0} row={1} points={edmIthPoints} fit={edmIthFit} />
      <ScatterPanel col={0} row={2} points={edmLet18Points} fit={edmLet18Fit} />
      <ScatterPanel col={1} row={2} points={ithLet18Points} fit={ithLet18Fit} />
      <ScatterPanel col={0} row={3} points={edmLet19Points} fit={edmLet19Fit} />
      <ScatterPanel col={1} row={3} points={ithLet19Points} fit={ithLet19Fit} />
      <ScatterPanel col={2} row={3} points={let18Let19Points} fit={let18Let19Fit} />
      <ScatterPanel col={0} row={4} points={edmPooledPoints} fit={edmPooledFit} />
      <ScatterPanel col={1} row={4} points={ithPooledPoints} fit={ithPooledFit} />
      <ScatterPanel col={2} row={4} points={let18PooledPoints} fit={let18PooledFit} />
      <ScatterPanel col={3} row={4} points={let19PooledPoints} fit={let19PooledFit} />
    </div>
  );
}
